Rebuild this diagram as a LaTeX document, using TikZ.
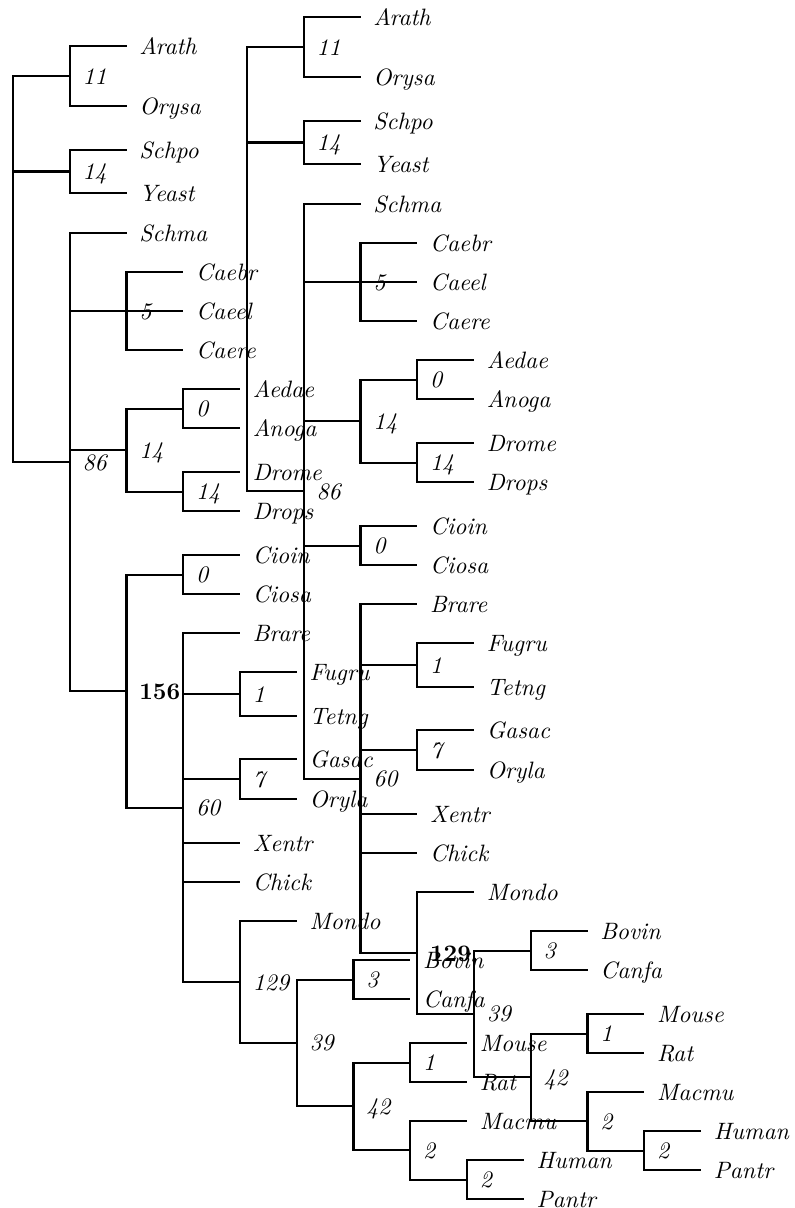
\documentclass[tikz,border=0pt]{standalone}
\begin{document}
\begin{tikzpicture}[x=0.422pt,y=-0.422pt,
  edge/.style={line width=0.85pt},
  lbl/.style={anchor=base west,inner sep=0pt,xshift=5.2pt,yshift=-3.4pt,font=\itshape},
  blbl/.style={lbl,font=\bfseries}]
\useasboundingbox (0,0) rectangle (795,1208);
% ---------- tree 1 ----------
\foreach \n/\x/\y in {Arath/126.5/46,Orysa/126.5/106,Schpo/126.5/150,Yeast/126.5/193,Schma/126.5/233,
  Caebr/183.25/272,Caeel/183.25/311,Caere/183.25/350,Aedae/240/389,Anoga/240/428,Drome/240/472,Drops/240/511,
  Cioin/240/555,Ciosa/240/594,Brare/240/633,Fugru/296.75/672,Tetng/296.75/716,Gasac/296.75/759,Oryla/296.75/799,
  Xentr/240/843,Chick/240/882,Mondo/296.75/921,Bovin/410.25/960,Canfa/410.25/999,Mouse/467/1043,Rat/467/1082,
  Macmu/467/1121,Human/523.75/1160,Pantr/523.75/1199}
  {\coordinate (a\n) at (\x,\y);}
\coordinate (a11) at (69.75,76);
\coordinate (a14a) at (69.75,171.5);
\coordinate (a5) at (126.5,311);
\coordinate (a0a) at (183.25,408.5);
\coordinate (a14c) at (183.25,491.5);
\coordinate (a14b) at (126.5,450);
\coordinate (a0b) at (183.25,574.5);
\coordinate (a1) at (240,694);
\coordinate (a7) at (240,779);
\coordinate (a3) at (353.5,979.5);
\coordinate (a1b) at (410.25,1062.5);
\coordinate (a2b) at (467,1179.5);
\coordinate (a2) at (410.25,1150.25);
\coordinate (a42) at (353.5,1106.4);
\coordinate (a39) at (296.75,1042.9);
\coordinate (a129) at (240,982);
\coordinate (a60) at (183.25,807.5);
\coordinate (a156) at (126.5,691);
\coordinate (a86) at (69.75,462);
\coordinate (aroot) at (13,269);
\foreach \p/\c in {aroot/a11,aroot/a14a,aroot/a86,a11/aArath,a11/aOrysa,a14a/aSchpo,a14a/aYeast,
  a86/aSchma,a86/a5,a86/a14b,a86/a156,a5/aCaebr,a5/aCaeel,a5/aCaere,a14b/a0a,a14b/a14c,
  a0a/aAedae,a0a/aAnoga,a14c/aDrome,a14c/aDrops,a156/a0b,a156/a60,a0b/aCioin,a0b/aCiosa,
  a60/aBrare,a60/a1,a60/a7,a60/aXentr,a60/aChick,a60/a129,a1/aFugru,a1/aTetng,a7/aGasac,a7/aOryla,
  a129/aMondo,a129/a39,a39/a3,a39/a42,a3/aBovin,a3/aCanfa,a42/a1b,a42/a2,a1b/aMouse,a1b/aRat,
  a2/aMacmu,a2/a2b,a2b/aHuman,a2b/aPantr}
  {\draw[edge] (\p) |- (\c);}
\foreach \n in {Arath,Orysa,Schpo,Yeast,Schma,Caebr,Caeel,Caere,Aedae,Anoga,Drome,Drops,Cioin,Ciosa,
  Brare,Fugru,Tetng,Gasac,Oryla,Xentr,Chick,Mondo,Bovin,Canfa,Mouse,Rat,Macmu,Human,Pantr}
  {\node[lbl] (ta\n) at (a\n) {\n};}
\foreach \c/\t in {a11/11,a14a/14,a5/5,a0a/0,a14c/14,a14b/14,a0b/0,a86/86,a1/1,a7/7,a60/60,
  a129/129,a39/39,a3/3,a1b/1,a42/42,a2/2,a2b/2}
  {\node[lbl] (l\c) at (\c) {\t};}
\node[blbl] (la156) at (a156) {156};
% ---------- tree 2 ----------
\foreach \n/\x/\y in {Arath/360.5/17,Orysa/360.5/77,Schpo/360.5/121,Yeast/360.5/164,Schma/360.5/204,
  Caebr/417.25/243,Caeel/417.25/282,Caere/417.25/321,Aedae/474/360,Anoga/474/399,Drome/474/443,Drops/474/482,
  Cioin/417.25/526,Ciosa/417.25/565,Brare/417.25/604,Fugru/474/643,Tetng/474/687,Gasac/474/730,Oryla/474/770,
  Xentr/417.25/814,Chick/417.25/853,Mondo/474/892,Bovin/587.5/931,Canfa/587.5/970,Mouse/644.25/1014,Rat/644.25/1053,
  Macmu/644.25/1092,Human/701/1131,Pantr/701/1170}
  {\coordinate (b\n) at (\x,\y);}
\coordinate (b11) at (303.75,47);
\coordinate (b14a) at (303.75,142.5);
\coordinate (b5) at (360.5,282);
\coordinate (b0a) at (417.25,379.5);
\coordinate (b14c) at (417.25,462.5);
\coordinate (b14b) at (360.5,421);
\coordinate (b0b) at (360.5,545.5);
\coordinate (b1) at (417.25,665);
\coordinate (b7) at (417.25,750);
\coordinate (b3) at (530.75,950.5);
\coordinate (b1b) at (587.5,1033.5);
\coordinate (b2b) at (644.25,1150.5);
\coordinate (b2) at (587.5,1121.25);
\coordinate (b42) at (530.75,1077.4);
\coordinate (b39) at (474,1013.9);
\coordinate (b129) at (417.25,953);
\coordinate (b60) at (360.5,778.5);
\coordinate (b86) at (303.75,491);
\coordinate (broot) at (247,269);
\foreach \p/\c in {broot/b11,broot/b14a,broot/b86,b11/bArath,b11/bOrysa,b14a/bSchpo,b14a/bYeast,
  b86/bSchma,b86/b5,b86/b14b,b86/b0b,b86/b60,b5/bCaebr,b5/bCaeel,b5/bCaere,b14b/b0a,b14b/b14c,
  b0a/bAedae,b0a/bAnoga,b14c/bDrome,b14c/bDrops,b0b/bCioin,b0b/bCiosa,
  b60/bBrare,b60/b1,b60/b7,b60/bXentr,b60/bChick,b60/b129,b1/bFugru,b1/bTetng,b7/bGasac,b7/bOryla,
  b129/bMondo,b129/b39,b39/b3,b39/b42,b3/bBovin,b3/bCanfa,b42/b1b,b42/b2,b1b/bMouse,b1b/bRat,
  b2/bMacmu,b2/b2b,b2b/bHuman,b2b/bPantr}
  {\draw[edge] (\p) |- (\c);}
\foreach \n in {Arath,Orysa,Schpo,Yeast,Schma,Caebr,Caeel,Caere,Aedae,Anoga,Drome,Drops,Cioin,Ciosa,
  Brare,Fugru,Tetng,Gasac,Oryla,Xentr,Chick,Mondo,Bovin,Canfa,Mouse,Rat,Macmu,Human,Pantr}
  {\node[lbl] (tb\n) at (b\n) {\n};}
\foreach \c/\t in {b11/11,b14a/14,b5/5,b0a/0,b14c/14,b14b/14,b0b/0,b86/86,b1/1,b7/7,b60/60,
  b39/39,b3/3,b1b/1,b42/42,b2/2,b2b/2}
  {\node[lbl] (l\c) at (\c) {\t};}
\node[blbl] (lb129) at (b129) {129};
\end{tikzpicture}
\end{document}
